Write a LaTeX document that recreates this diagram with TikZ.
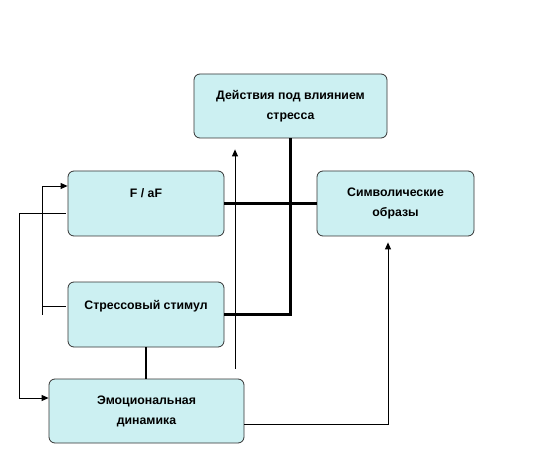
\documentclass[tikz,border=0pt]{standalone}
\usepackage{fontspec}
\setmainfont{Liberation Sans}
\usepackage{xcolor}
\usepackage{tikz}
\usetikzlibrary{arrows.meta, positioning, calc}

\definecolor{boxfill}{HTML}{CCF0F2}

\tikzset{
  %% Rounded box
  rbox/.style={
    rectangle, rounded corners=6pt,
    draw=black!80, fill=boxfill,
    text centered, align=center,
    font=\fontsize{12.3}{20}\selectfont\bfseries,
    inner sep=2pt, line width=0.8pt
  },
  %% Thick link
  tlink/.style={draw=black, line width=2.6pt},
  %% Thin arrow
  arr/.style={-{Triangle[length=7pt,width=6pt]},
              draw=black, line width=0.9pt},
  thinl/.style={draw=black, line width=0.9pt},
}

\begin{document}
\begin{tikzpicture}[x=1pt, y=1pt]

  \useasboundingbox (0,0) rectangle (544,448);

  %% Boxes
  \node[rbox, minimum width=193pt, minimum height=64pt] (act) at (290.5,342)
    {Действия под влиянием\\стресса};
  \node[rbox, minimum width=156pt, minimum height=65pt] (faf) at (146,244.5)
    {F / aF\\\mbox{}};
  \node[rbox, minimum width=157pt, minimum height=65pt] (sym) at (395.5,244.5)
    {Символические\\образы};
  \node[rbox, minimum width=156pt, minimum height=65pt] (stim) at (146,133.5)
    {Стрессовый стимул\\\mbox{}};
  \node[rbox, minimum width=195pt, minimum height=64pt] (emo) at (146.5,37)
    {Эмоциональная\\динамика};

  %% Thick links
  \draw[tlink] (faf.east) -- (sym.west);
  \draw[tlink] (act.south) |- (stim.east);
  \draw[tlink] (stim.south) -- (emo.north -| stim.south);

  %% Thin arrows
  \draw[arr] ([xshift=88.5pt, yshift=10pt]emo.north)
          -- ([xshift=-55.5pt, yshift=-11pt]act.south);
  \draw[arr] ([yshift=-13pt]emo.east)
          -| ([xshift=-7.5pt, yshift=-6pt]sym.south);
  \draw[arr] ([xshift=-2pt, yshift=-9.5pt]faf.west) -- ++(-46pt,0)
          |- ([yshift=13pt]emo.west);
  \draw[thinl] ([xshift=-2pt, yshift=8.5pt]stim.west) -- ++(-23pt,0);
  \draw[arr] ([xshift=-25pt]stim.west) |- ([yshift=17.5pt]faf.west);

\end{tikzpicture}
\end{document}
